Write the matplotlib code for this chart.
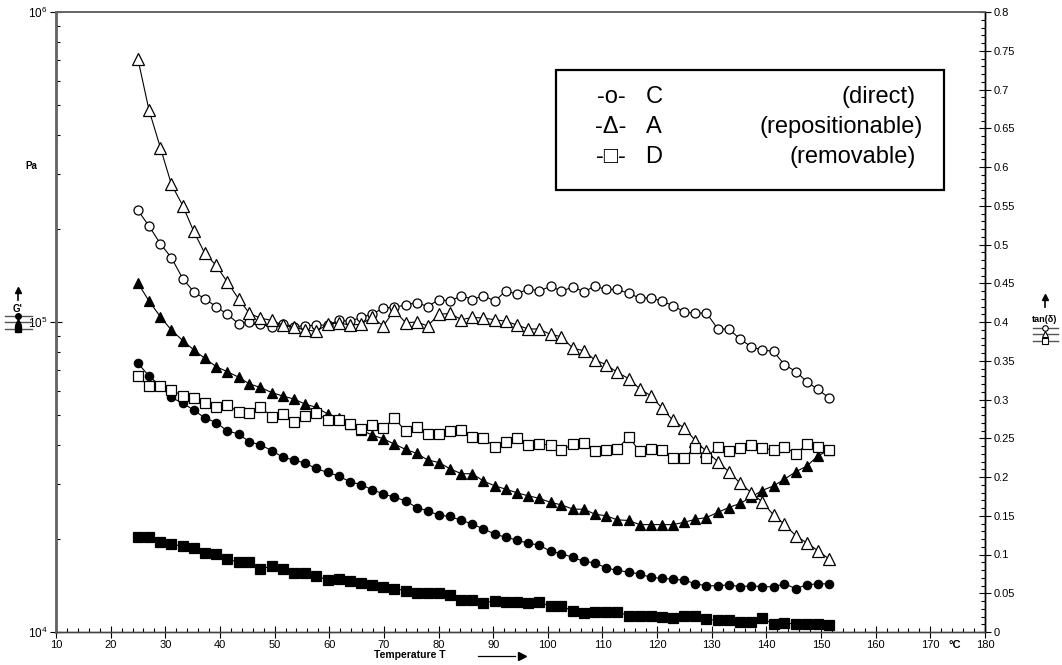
import matplotlib
matplotlib.use("Agg")
import matplotlib.pyplot as plt
from matplotlib.ticker import MultipleLocator, FixedLocator, LogLocator, FuncFormatter, NullFormatter
from matplotlib.lines import Line2D
from matplotlib.patches import Rectangle

plt.rcParams['font.family'] = ['Liberation Sans', 'DejaVu Sans']

# ---------------- data ----------------
temperature = [25.0, 27.0, 29.1, 31.1, 33.2, 35.2, 37.2, 39.3, 41.3, 43.4,
               45.4, 47.4, 49.5, 51.5, 53.6, 55.6, 57.6, 59.7, 61.7, 63.8,
               65.8, 67.8, 69.9, 71.9, 74.0, 76.0, 78.0, 80.1, 82.1, 84.2,
               86.2, 88.2, 90.3, 92.3, 94.4, 96.4, 98.4, 100.5, 102.5, 104.6,
               106.6, 108.6, 110.7, 112.7, 114.8, 116.8, 118.8, 120.9, 122.9, 125.0,
               127.0, 129.0, 131.1, 133.1, 135.2, 137.2, 139.2, 141.3, 143.3, 145.4,
               147.4, 149.4, 151.5]

# storage modulus G' in kPa (left, log axis)
g_C_kpa = [73.6, 67.0, 62.2, 57.1, 54.7, 52.0, 49.1, 47.4, 44.6, 43.5,
           41.1, 40.1, 38.5, 36.6, 35.9, 35.0, 33.7, 32.7, 31.9, 30.5,
           29.9, 28.8, 27.9, 27.2, 26.5, 25.2, 24.6, 23.8, 23.6, 22.9,
           22.3, 21.5, 20.7, 20.2, 19.8, 19.3, 19.1, 18.2, 17.9, 17.4,
           16.9, 16.7, 16.1, 15.8, 15.6, 15.4, 15.0, 14.9, 14.8, 14.7,
           14.3, 14.1, 14.1, 14.2, 14.0, 14.1, 14.0, 14.0, 14.3, 13.8,
           14.2, 14.3, 14.3]
g_A_kpa = [133.4, 117.0, 104.0, 94.2, 87.1, 81.3, 76.4, 71.8, 69.2, 66.4,
           63.1, 61.5, 59.2, 57.7, 56.4, 54.3, 53.1, 50.5, 48.9, 46.9,
           44.9, 43.2, 42.0, 40.4, 38.8, 37.7, 35.9, 35.2, 33.6, 32.4,
           32.4, 30.7, 29.6, 28.9, 28.1, 27.5, 27.0, 26.2, 25.7, 24.9,
           24.9, 24.0, 23.7, 23.0, 22.9, 22.2, 22.2, 22.2, 22.2, 22.6,
           23.1, 23.4, 24.3, 25.2, 26.0, 27.2, 28.6, 29.6, 31.1, 32.9,
           34.3, 37.0, 38.6]
g_D_kpa = [20.3, 20.3, 19.5, 19.2, 18.9, 18.7, 18.0, 17.9, 17.2, 16.8,
           16.8, 16.0, 16.3, 16.0, 15.5, 15.5, 15.2, 14.7, 14.8, 14.6,
           14.4, 14.2, 14.0, 13.8, 13.6, 13.4, 13.4, 13.4, 13.2, 12.7,
           12.7, 12.4, 12.6, 12.5, 12.5, 12.4, 12.5, 12.1, 12.1, 11.7,
           11.5, 11.6, 11.6, 11.6, 11.3, 11.3, 11.3, 11.2, 11.1, 11.3,
           11.3, 11.0, 10.9, 10.9, 10.8, 10.8, 11.1, 10.6, 10.7, 10.6,
           10.6, 10.6, 10.5]

# loss factor tan(delta) (right axis)
tan_C = [0.544, 0.524, 0.501, 0.483, 0.456, 0.439, 0.430, 0.420, 0.410, 0.398,
         0.400, 0.397, 0.394, 0.398, 0.394, 0.395, 0.396, 0.396, 0.402, 0.401,
         0.406, 0.410, 0.418, 0.419, 0.422, 0.425, 0.420, 0.429, 0.427, 0.434,
         0.429, 0.434, 0.427, 0.440, 0.436, 0.443, 0.440, 0.446, 0.440, 0.445,
         0.439, 0.446, 0.442, 0.442, 0.437, 0.431, 0.431, 0.427, 0.421, 0.413,
         0.411, 0.412, 0.391, 0.391, 0.378, 0.368, 0.364, 0.362, 0.345, 0.336,
         0.323, 0.313, 0.302]
tan_A = [0.739, 0.674, 0.625, 0.578, 0.550, 0.517, 0.489, 0.473, 0.452, 0.430,
         0.411, 0.405, 0.402, 0.396, 0.393, 0.390, 0.388, 0.397, 0.399, 0.396,
         0.397, 0.406, 0.395, 0.415, 0.399, 0.400, 0.395, 0.410, 0.411, 0.403,
         0.406, 0.405, 0.403, 0.401, 0.396, 0.391, 0.391, 0.384, 0.381, 0.366,
         0.363, 0.351, 0.345, 0.335, 0.327, 0.314, 0.305, 0.289, 0.273, 0.263,
         0.247, 0.233, 0.220, 0.207, 0.192, 0.180, 0.168, 0.151, 0.139, 0.124,
         0.115, 0.105, 0.094]
tan_D = [0.330, 0.317, 0.317, 0.312, 0.305, 0.302, 0.296, 0.290, 0.293, 0.284,
         0.283, 0.290, 0.278, 0.281, 0.271, 0.279, 0.282, 0.274, 0.274, 0.268,
         0.262, 0.267, 0.263, 0.276, 0.259, 0.265, 0.256, 0.255, 0.260, 0.261,
         0.251, 0.250, 0.239, 0.245, 0.250, 0.241, 0.243, 0.241, 0.235, 0.242,
         0.244, 0.233, 0.235, 0.236, 0.252, 0.233, 0.236, 0.235, 0.225, 0.225,
         0.238, 0.225, 0.239, 0.234, 0.237, 0.241, 0.237, 0.235, 0.239, 0.230,
         0.242, 0.239, 0.235]

x_ticks = list(range(10, 181, 10))
right_ticks = [0, 0.05, 0.1, 0.15, 0.2, 0.25, 0.3, 0.35, 0.4, 0.45, 0.5,
               0.55, 0.6, 0.65, 0.7, 0.75, 0.8]

legend_rows = [("-o-", "C", "(direct)"),
               ("-\u0394-", "A", "(repositionable)"),
               ("-\u25a1-", "D", "(removable)")]

# ---------------- figure ----------------
W, H = 1062, 665
fig = plt.figure(figsize=(W / 100, H / 100), dpi=100)
fig.patch.set_facecolor('white')


def P(x, y):
    return (x / W, 1 - y / H)


ax = fig.add_axes([56 / W, 33 / H, 929 / W, 620 / H])
ax2 = ax.twinx()

line_kw = dict(color='black', lw=0.8, markeredgecolor='black', markeredgewidth=0.9)

gC = [v * 1000 for v in g_C_kpa]
gA = [v * 1000 for v in g_A_kpa]
gD = [v * 1000 for v in g_D_kpa]

ax.plot(temperature, gC, marker='o', ms=6, markerfacecolor='black', **line_kw)
ax.plot(temperature, gA, marker='^', ms=7, markerfacecolor='black', **line_kw)
ax.plot(temperature, gD, marker='s', ms=6.5, markerfacecolor='black', **line_kw)

ax2.plot(temperature, tan_C, marker='o', ms=6.5, markerfacecolor='white', **line_kw)
ax2.plot(temperature, tan_A, marker='^', ms=8, markerfacecolor='white', **line_kw)
ax2.plot(temperature, tan_D, marker='s', ms=7, markerfacecolor='white', **line_kw)

# x axis
ax.set_xlim(10, 180)
ax.xaxis.set_major_locator(FixedLocator(x_ticks))
ax.xaxis.set_minor_locator(MultipleLocator(2))
ax.tick_params(axis='x', which='major', direction='inout', length=8, width=0.8,
               labelsize=8, pad=2)
ax.tick_params(axis='x', which='minor', direction='in', length=3, width=0.8)

# left log axis
ax.set_yscale('log')
ax.set_ylim(1e4, 1e6)
ax.yaxis.set_major_locator(LogLocator(base=10, numticks=5))
ax.yaxis.set_minor_locator(LogLocator(base=10, subs=range(2, 10), numticks=20))
ax.yaxis.set_minor_formatter(NullFormatter())
ax.tick_params(axis='y', which='major', direction='inout', length=8, width=0.8,
               labelsize=8.5, pad=2)
ax.tick_params(axis='y', which='minor', direction='in', length=3, width=0.8)

# right axis
ax2.set_ylim(0, 0.8)
ax2.yaxis.set_major_locator(FixedLocator(right_ticks))
ax2.yaxis.set_minor_locator(MultipleLocator(0.01))
ax2.yaxis.set_major_formatter(FuncFormatter(lambda v, p: '%g' % round(v, 2)))
ax2.tick_params(axis='y', which='major', direction='inout', length=8, width=0.8,
                labelsize=8, pad=2)
ax2.tick_params(axis='y', which='minor', direction='in', length=3, width=0.8)

for a in (ax, ax2):
    a.spines['left'].set_color('#666666')
    a.spines['left'].set_linewidth(1.8)
    a.spines['top'].set_color('#666666')
    a.spines['top'].set_linewidth(1.2)
    a.spines['right'].set_color('black')
    a.spines['right'].set_linewidth(1.0)
    a.spines['bottom'].set_color('#444444')
    a.spines['bottom'].set_linewidth(1.0)

# axis annotations
fig.text(*P(31, 166), "Pa", fontsize=7, fontweight='bold', ha='center', va='center')
fig.text(*P(410, 655), "Temperature T", fontsize=7.5, fontweight='bold', ha='center', va='center')
fig.text(*P(955, 645), "\u00b0C", fontsize=8, fontweight='bold', ha='center', va='center')
fig.add_artist(Line2D([478 / W, 515 / W], [1 - 656 / H, 1 - 656 / H], color='black', lw=0.9))
fig.add_artist(Line2D([522 / W], [1 - 656 / H], marker='>', ms=6, color='black', lw=0))

# left mini legend (G')
fig.add_artist(Line2D([18 / W, 18 / W], [1 - 300 / H, 1 - 290 / H], color='black', lw=1.2))
fig.add_artist(Line2D([18 / W], [1 - 290 / H], marker='^', ms=5, color='black', lw=0))
fig.text(*P(18, 309), "G'", fontsize=7, fontweight='bold', ha='center', va='center')
for yy, mk in zip((316, 322, 329), ('o', '^', 's')):
    fig.add_artist(Line2D([5 / W, 32 / W], [1 - yy / H, 1 - yy / H], color='#555555', lw=1.0))
    fig.add_artist(Line2D([18 / W], [1 - yy / H], marker=mk, ms=4, color='black', lw=0))

# right mini legend (tan delta)
fig.add_artist(Line2D([1045 / W, 1045 / W], [1 - 307 / H, 1 - 297 / H], color='black', lw=1.2))
fig.add_artist(Line2D([1045 / W], [1 - 297 / H], marker='^', ms=5, color='black', lw=0))
fig.text(*P(1045, 320), "tan(\u03b4)", fontsize=6.5, fontweight='bold', ha='center', va='center')
for yy, mk in zip((328, 334, 341), ('o', '^', 's')):
    fig.add_artist(Line2D([1033 / W, 1058 / W], [1 - yy / H, 1 - yy / H], color='#555555', lw=1.0))
    fig.add_artist(Line2D([1045 / W], [1 - yy / H], marker=mk, ms=4, color='black',
                          markerfacecolor='white', markeredgewidth=0.8, lw=0))

# legend box
fig.add_artist(Rectangle(P(556, 190), (944 - 556) / W, 120 / H, transform=fig.transFigure,
                         fill=False, lw=1.6, edgecolor='black'))
row_y = [97, 127, 157]
right_x = [916, 923, 916]
for (sym, lab, desc), yy, rx in zip(legend_rows, row_y, right_x):
    fig.text(*P(611, yy), sym, fontsize=17, ha='center', va='center')
    fig.text(*P(654, yy), lab, fontsize=17, ha='center', va='center')
    fig.text(*P(rx, yy), desc, fontsize=17, ha='right', va='center')

fig.savefig("out.png", dpi=100, facecolor='white')
